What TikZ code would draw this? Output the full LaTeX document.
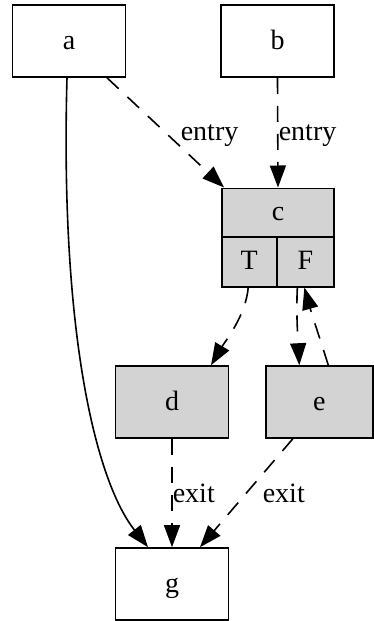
\documentclass[tikz,border=0pt]{standalone}
\usepackage{fontspec}
\setmainfont{Liberation Serif}
\usetikzlibrary{arrows.meta,calc}
\definecolor{cellgray}{HTML}{D3D3D3}
\begin{document}
\begin{tikzpicture}[x=1pt,y=-1pt,
  every node/.style={font=\fontsize{28}{34}\selectfont},
  box/.style={draw,line width=1.6pt,inner sep=0pt,text height=16pt,text depth=0pt,
    minimum width=113pt,minimum height=72pt},
  grey/.style={box,fill=cellgray},
  cell/.style={draw,line width=1.6pt,fill=cellgray,inner sep=0pt,text height=16pt,text depth=0pt},
  lbl/.style={anchor=base west,inner sep=0pt},
  edge/.style={line width=1.6pt,-{Triangle[length=22pt,width=16pt]}},
  dedge/.style={edge,dash pattern=on 16pt off 12pt}]
\useasboundingbox (0,0) rectangle (374,621);
\fill[white] (0,0) rectangle (374,621);

% plain boxes
\node[box] (a) at (69,41) {a};
\node[box] (b) at (277.5,41) {b};
\node[box] (g) at (172,584) {g};

% record node c with its two ports
\node[cell,minimum width=112.3pt,minimum height=48.4pt] (c) at (278,212.5) {c};
\node[cell,minimum width=55pt,minimum height=50pt] (cT) at (249.2,261.7) {T};
\node[cell,minimum width=57.3pt,minimum height=50pt] (cF) at (305.35,261.7) {F};

% grey boxes
\node[grey] (d) at (172,402) {d};
\node[grey,minimum width=107pt] (e) at (319.3,402) {e};

% edges
\draw[edge] ($(a.south)+(-2,0)$) .. controls (60,330) and (95,480) .. ($(g.north)+(-24,0)$);
\draw[dedge] ($(a.south)+(38,0)$) -- ($(c.north west)+(3,0)$)
  node[lbl] (l1) at (180,140) {entry};
\draw[dedge] (b.south) -- (c.north)
  node[lbl] (l2) at (278,140) {entry};
\draw[dedge] ($(cT.south)+(-1,0)$) .. controls (246,315) and (226,340) .. ($(d.north)+(39,0)$);
\draw[dedge] ($(cF.south)+(-8,0)$) .. controls (296,315) and (298,340) .. ($(e.north)+(-20,0)$);
\draw[dedge] ($(e.north)+(9,0)$) .. controls (322,345) and (312,315) .. ($(cF.south)+(-1,0)$);
\draw[dedge] (d.south) -- (g.north)
  node[lbl] (l3) at (172,502) {exit};
\draw[dedge] ($(e.south)+(-26.5,0)$) -- ($(g.north)+(28,0)$)
  node[lbl] (l4) at (262,502) {exit};
\end{tikzpicture}
\end{document}
